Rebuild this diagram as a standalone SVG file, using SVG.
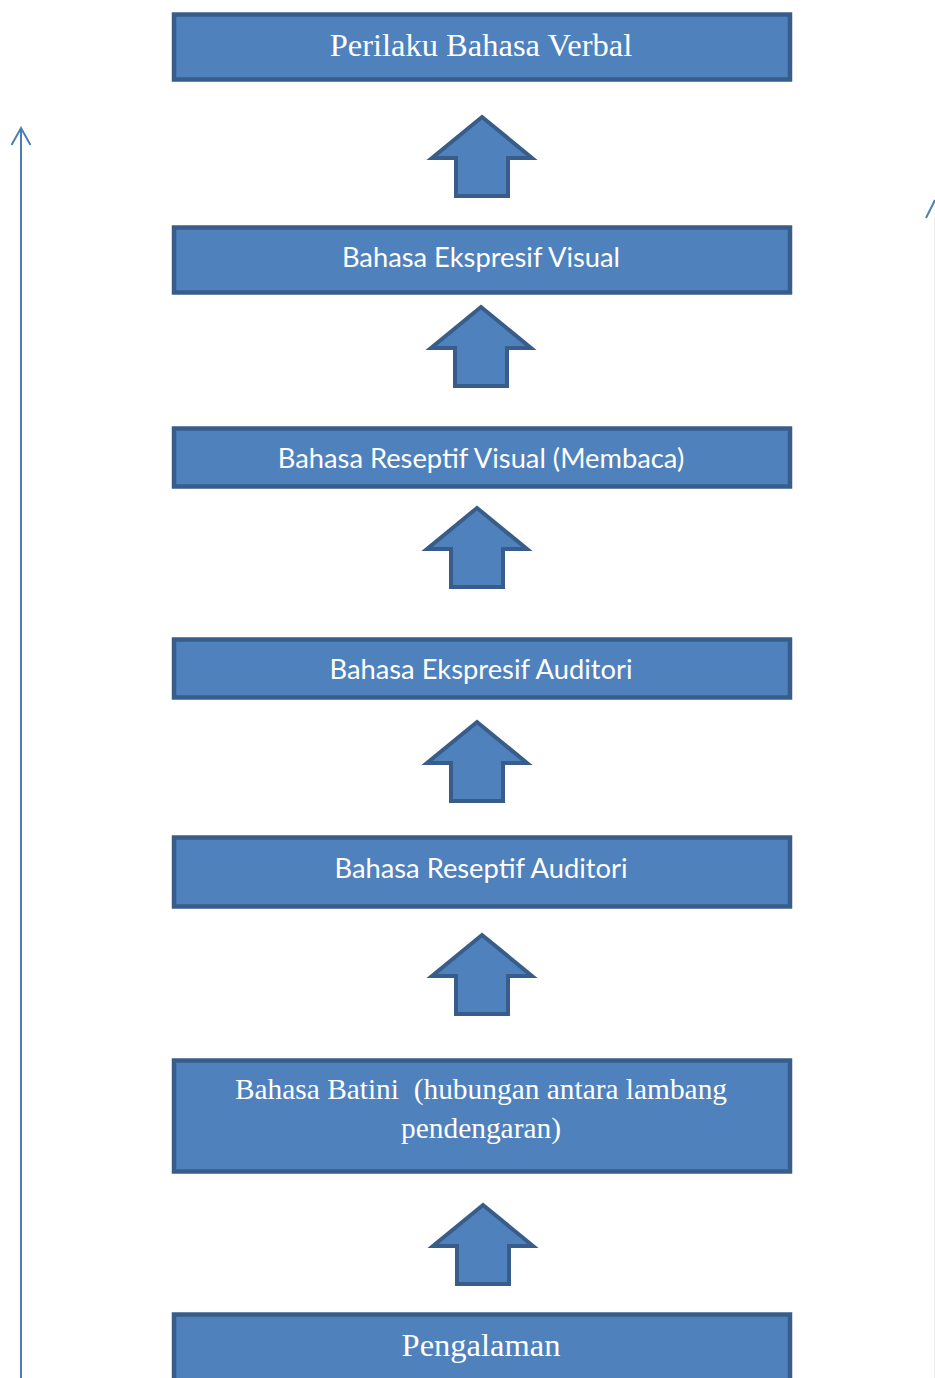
<svg xmlns="http://www.w3.org/2000/svg" width="935" height="1378" viewBox="0 0 935 1378">
<style>
.box{fill:#4f81bd;stroke:#385d8a;stroke-width:4.5}
.blk{fill:#4f81bd;stroke:#385d8a;stroke-width:4;stroke-linejoin:miter}
.serif{font-family:"Liberation Serif","Times New Roman",serif;fill:#ffffff;text-anchor:middle}
.sans{font-family:Lato,"Noto Sans",sans-serif;fill:#ffffff;text-anchor:middle;font-size:27.3px}
.ln{fill:none;stroke:#4a7ebb;stroke-width:2}
</style>
<defs>
<path id="up" d="M0,0 L50,41 L26,41 L26,79 L-26,79 L-26,41 L-50,41 Z"/>
</defs>
<g id="connectors">
<path class="ln" d="M21,1378 L21,128"/>
<path class="ln" d="M11.5,145 L21,128 L30.5,145"/>
<path class="ln" d="M935,200 L926,218"/>
<path d="M934.5,218 L934.5,1378" fill="none" stroke="#ececec" stroke-width="1"/>
<use href="#up" class="blk" x="482" y="117"/>
<use href="#up" class="blk" x="481" y="307"/>
<use href="#up" class="blk" x="477" y="508"/>
<use href="#up" class="blk" x="477" y="722"/>
<use href="#up" class="blk" x="482" y="935"/>
<use href="#up" class="blk" x="483" y="1205"/>
</g>
<g id="n1"><rect class="box" x="174" y="14.5" width="616" height="65"/><text class="serif" x="481" y="56" font-size="32.5">Perilaku Bahasa Verbal</text></g>
<g id="n2"><rect class="box" x="174" y="227.5" width="616" height="65"/><text class="sans" x="481" y="267">Bahasa Ekspresif Visual</text></g>
<g id="n3"><rect class="box" x="174" y="428.5" width="616" height="58"/><text class="sans" x="481" y="468">Bahasa Reseptif Visual (Membaca)</text></g>
<g id="n4"><rect class="box" x="174" y="639.5" width="616" height="58"/><text class="sans" x="481" y="679">Bahasa Ekspresif Auditori</text></g>
<g id="n5"><rect class="box" x="174" y="837.5" width="616" height="69"/><text class="sans" x="481" y="878">Bahasa Reseptif Auditori</text></g>
<g id="n6"><rect class="box" x="174" y="1060.5" width="616" height="111"/><text class="serif" x="481" y="1099" font-size="29.4" xml:space="preserve">Bahasa Batini  (hubungan antara lambang</text><text class="serif" x="481" y="1138" font-size="29.4">pendengaran)</text></g>
<g id="n7"><rect class="box" x="174" y="1314.5" width="616" height="80"/><text class="serif" x="481" y="1356" font-size="32.5">Pengalaman</text></g>
</svg>
